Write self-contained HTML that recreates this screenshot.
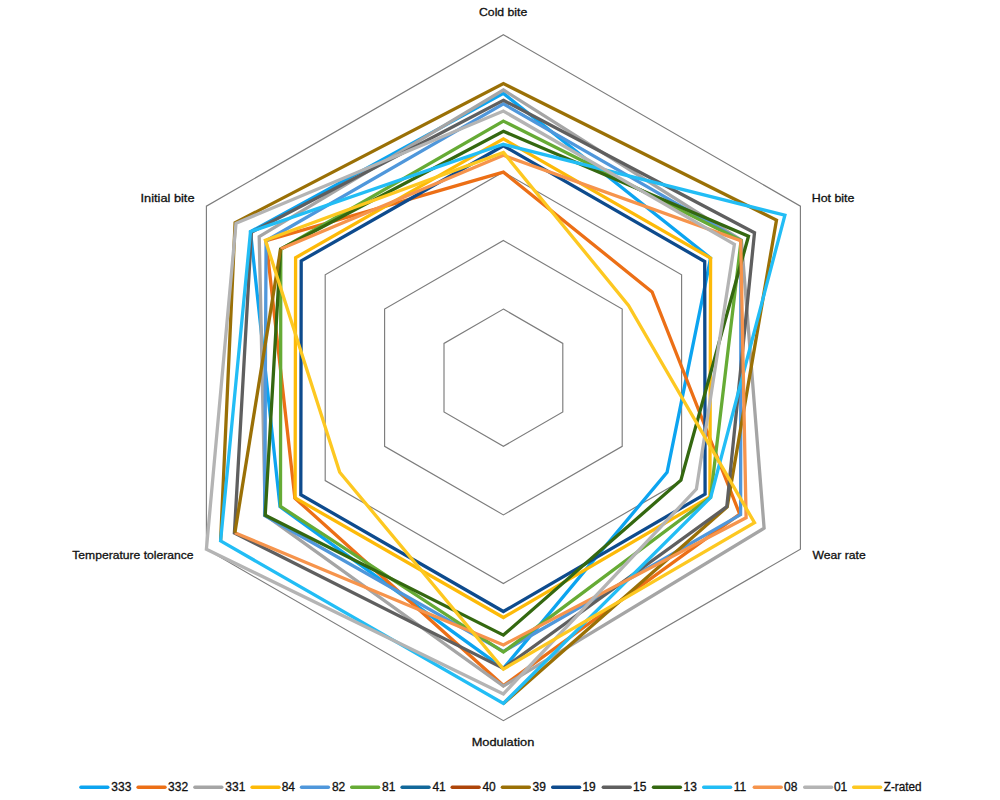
<!DOCTYPE html>
<html><head><meta charset="utf-8"><title>Radar</title>
<style>
html,body{margin:0;padding:0;background:#fff;}
body{width:1000px;height:800px;overflow:hidden;font-family:"Liberation Sans",sans-serif;}
svg{display:block;}
.ax{font-family:"Liberation Sans",sans-serif;font-size:11.2px;fill:#111;stroke:#111;stroke-width:0.3px;}
.lg{font-family:"Liberation Sans",sans-serif;font-size:12px;fill:#111;stroke:#111;stroke-width:0.3px;}
</style></head><body>
<svg width="1000" height="800" viewBox="0 0 1000 800">
<rect width="1000" height="800" fill="#fff"/>
<g fill="none" stroke="#7c7c7c" stroke-width="1.15">
<polygon points="503.4,309.1 562.8,343.4 562.8,412.0 503.4,446.3 444.0,412.0 444.0,343.4"/>
<polygon points="503.4,240.5 622.2,309.1 622.2,446.3 503.4,514.9 384.6,446.3 384.6,309.1"/>
<polygon points="503.4,171.9 681.6,274.8 681.6,480.6 503.4,583.5 325.2,480.6 325.2,274.8"/>
<polygon points="503.4,103.3 741.0,240.5 741.0,514.9 503.4,652.1 265.8,514.9 265.8,240.5"/>
<polygon points="503.4,34.7 800.4,206.2 800.4,549.2 503.4,720.7 206.4,549.2 206.4,206.2"/>
</g>
<g fill="none" stroke-width="3.3" stroke-linejoin="miter" stroke-miterlimit="10">
<polygon points="503.4,93.4 710.6,258.1 667.1,472.2 503.4,668.4 280.0,506.7 250.5,231.7" stroke="#0CA4F0"/>
<polygon points="503.4,172.1 652.1,291.9 739.7,514.1 503.4,685.6 294.9,498.1 266.1,240.7" stroke="#EC6F16"/>
<polygon points="503.4,90.0 741.4,240.3 764.1,528.2 503.4,686.1 265.2,515.2 259.2,236.7" stroke="#A5A5A5"/>
<polygon points="503.4,138.9 710.6,258.1 709.9,496.9 503.4,617.5 295.1,497.9 295.6,257.7" stroke="#FDBA08"/>
<polygon points="503.4,103.9 740.9,240.6 740.6,514.6 503.4,651.4 264.6,515.5 266.1,240.7" stroke="#4F97DB"/>
<polygon points="503.4,121.1 741.1,240.5 710.6,497.3 503.4,652.1 280.5,506.4 280.8,249.2" stroke="#66AB35"/>
<polyline points="503.4,703.5 727.2,506.9 776.5,220.1 503.4,83.5 235.1,222.8 220.6,540.9" stroke="#9A7006"/>
<polygon points="503.4,145.7 704.7,261.5 705.1,494.1 503.4,611.5 300.8,494.7 301.2,260.9" stroke="#0E4B8D"/>
<polygon points="503.4,100.3 754.5,232.7 726.8,506.7 503.4,668.4 234.4,533.0 251.4,232.2" stroke="#5F5F5F"/>
<polygon points="503.4,131.3 748.5,236.2 680.9,480.2 503.4,635.1 265.2,515.2 280.6,249.0" stroke="#346810"/>
<polygon points="503.4,144.3 784.9,215.2 710.7,497.4 503.4,703.5 220.6,540.9 250.5,231.7" stroke="#22BDF5"/>
<polyline points="280.6,249.0 503.4,155.3 740.7,240.7 746.1,517.8 503.4,644.9 234.9,532.7" stroke="#F6944C"/>
<line x1="234.9" y1="532.7" x2="280.6" y2="249.0" stroke="#9A7006"/>
<polygon points="503.4,111.1 734.4,244.4 696.4,489.1 503.4,693.9 206.4,549.2 236.0,223.3" stroke="#B4B4B4"/>
<polygon points="503.4,152.4 628.5,305.4 754.5,522.7 503.4,669.1 339.7,472.2 265.4,240.3" stroke="#FDC821"/>
</g>
<text class="ax" x="479.0" y="15.6" text-anchor="start" textLength="48.3" lengthAdjust="spacingAndGlyphs">Cold bite</text>
<text class="ax" x="811.7" y="202.0" text-anchor="start" textLength="42.8" lengthAdjust="spacingAndGlyphs">Hot bite</text>
<text class="ax" x="812.5" y="559.2" text-anchor="start" textLength="53.2" lengthAdjust="spacingAndGlyphs">Wear rate</text>
<text class="ax" x="471.7" y="745.7" text-anchor="start" textLength="62.6" lengthAdjust="spacingAndGlyphs">Modulation</text>
<text class="ax" x="72.3" y="559.2" text-anchor="start" textLength="121.3" lengthAdjust="spacingAndGlyphs">Temperature tolerance</text>
<text class="ax" x="140.5" y="202.0" text-anchor="start" textLength="54.0" lengthAdjust="spacingAndGlyphs">Initial bite</text>
<g stroke-width="3.4" stroke-linecap="round">
<line x1="80.9" y1="787.3" x2="107.8" y2="787.3" stroke="#0CA4F0"/>
<line x1="138.1" y1="787.3" x2="165.0" y2="787.3" stroke="#EC6F16"/>
<line x1="194.9" y1="787.3" x2="221.8" y2="787.3" stroke="#A5A5A5"/>
<line x1="252.1" y1="787.3" x2="279.0" y2="787.3" stroke="#FDBA08"/>
<line x1="301.5" y1="787.3" x2="328.4" y2="787.3" stroke="#4F97DB"/>
<line x1="351.7" y1="787.3" x2="378.6" y2="787.3" stroke="#66AB35"/>
<line x1="402.1" y1="787.3" x2="429.0" y2="787.3" stroke="#12689A"/>
<line x1="452.2" y1="787.3" x2="479.1" y2="787.3" stroke="#AE4509"/>
<line x1="502.4" y1="787.3" x2="529.3" y2="787.3" stroke="#9A7006"/>
<line x1="552.7" y1="787.3" x2="579.6" y2="787.3" stroke="#0E4B8D"/>
<line x1="603.3" y1="787.3" x2="630.2" y2="787.3" stroke="#5F5F5F"/>
<line x1="653.5" y1="787.3" x2="680.4" y2="787.3" stroke="#346810"/>
<line x1="703.7" y1="787.3" x2="730.6" y2="787.3" stroke="#22BDF5"/>
<line x1="754.3" y1="787.3" x2="781.2" y2="787.3" stroke="#F6944C"/>
<line x1="804.7" y1="787.3" x2="831.6" y2="787.3" stroke="#B4B4B4"/>
<line x1="853.7" y1="787.3" x2="880.6" y2="787.3" stroke="#FDC821"/>
</g>
<text class="lg" x="111.3" y="790.5">333</text>
<text class="lg" x="168.1" y="790.5">332</text>
<text class="lg" x="225.3" y="790.5">331</text>
<text class="lg" x="281.7" y="790.5">84</text>
<text class="lg" x="331.9" y="790.5">82</text>
<text class="lg" x="382.0" y="790.5">81</text>
<text class="lg" x="432.4" y="790.5">41</text>
<text class="lg" x="482.4" y="790.5">40</text>
<text class="lg" x="532.5" y="790.5">39</text>
<text class="lg" x="582.4" y="790.5">19</text>
<text class="lg" x="633.0" y="790.5">15</text>
<text class="lg" x="683.6" y="790.5">13</text>
<text class="lg" x="733.8" y="790.5">11</text>
<text class="lg" x="784.0" y="790.5">08</text>
<text class="lg" x="833.9" y="790.5">01</text>
<text class="lg" x="883.8" y="790.5" textLength="37.7" lengthAdjust="spacingAndGlyphs">Z-rated</text>
</svg>
</body></html>
